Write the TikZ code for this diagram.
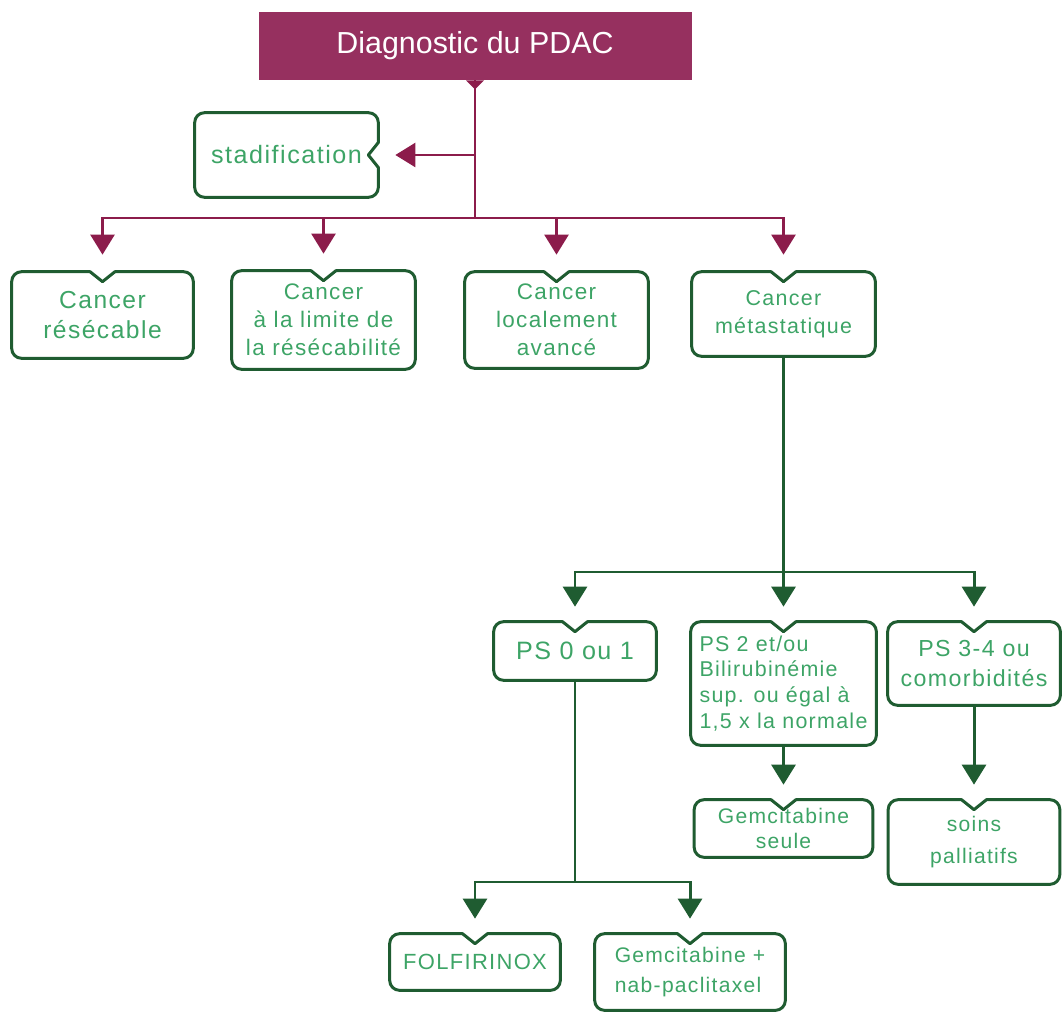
\documentclass[tikz,border=0pt]{standalone}
\usepackage{fontspec}
\setmainfont{Liberation Sans}
\newfontfamily\boxfont[LetterSpace=6]{Liberation Sans}
\usepackage{tikz}
\usetikzlibrary{arrows.meta,calc}
\definecolor{hexcolor0x96305f}{rgb}{0.588,0.188,0.373}
\definecolor{hexcolor0x8c1c4b}{rgb}{0.549,0.110,0.294}
\definecolor{hexcolor0x1f5c31}{rgb}{0.122,0.361,0.192}
\definecolor{hexcolor0x3da466}{rgb}{0.239,0.643,0.400}
\definecolor{mywhite}{rgb}{1.000,1.000,1.000}
\tikzstyle{title}=[rectangle,fill=hexcolor0x96305f,text=mywhite,minimum width=8.66cm,minimum height=1.36cm,font=\fontsize{17.3}{20}\selectfont]
\tikzstyle{box}=[rectangle,align=center,text=hexcolor0x3da466,inner sep=0pt]
\tikzstyle{outline}=[draw=hexcolor0x1f5c31,line width=1.7pt,line join=round,line cap=round]
\tikzstyle{mline}=[draw=hexcolor0x8c1c4b,line width=1.4pt]
\tikzstyle{marrow}=[mline,-{Triangle[width=0.48cm,length=0.4cm]},shorten >=0.34cm]
\tikzstyle{gline}=[draw=hexcolor0x1f5c31,line width=1.7pt]
\tikzstyle{garrow}=[gline,-{Triangle[width=0.48cm,length=0.4cm]},shorten >=0.3cm]
\newcommand{\fsz}[2]{\boxfont\fontsize{#1}{#2}\selectfont}
\newcommand{\notchN}[1]{%
  \draw [style=outline,rounded corners=0.2cm] ($(#1.north)+(-0.25,0)$) -- (#1.north west) -- (#1.south west) -- (#1.south east) -- (#1.north east) -- ($(#1.north)+(0.25,0)$);
  \draw [style=outline] ($(#1.north)+(-0.25,0)$) -- ($(#1.north)+(0,-0.2)$) -- ($(#1.north)+(0.25,0)$);}
\newcommand{\notchE}[1]{%
  \draw [style=outline,rounded corners=0.2cm] ($(#1.east)+(0,0.25)$) -- (#1.north east) -- (#1.north west) -- (#1.south west) -- (#1.south east) -- ($(#1.east)+(0,-0.25)$);
  \draw [style=outline] ($(#1.east)+(0,0.25)$) -- ($(#1.east)+(-0.2,0)$) -- ($(#1.east)+(0,-0.25)$);}

\begin{document}
\begin{tikzpicture}
	\useasboundingbox (0,0) rectangle (21.24,-20.24);
		\node [style=title] (0) at (9.5,-0.92) {Diagnostic du PDAC};
		\node [style=box,minimum width=3.66cm,minimum height=1.68cm,font=\fsz{14.3}{17}] (1) at (5.73,-3.1) {stadification};
		\node [style=box,minimum width=3.62cm,minimum height=1.72cm,font=\fsz{14}{17}] (2) at (2.05,-6.3) {Cancer\\résécable};
		\node [style=box,minimum width=3.66cm,minimum height=1.96cm,font=\fsz{12.8}{15.9}] (3) at (6.47,-6.4) {Cancer\\à la limite de\\la résécabilité};
		\node [style=box,minimum width=3.66cm,minimum height=1.92cm,font=\fsz{12.8}{15.9}] (4) at (11.13,-6.4) {Cancer\\localement\\avancé};
		\node [style=box,minimum width=3.66cm,minimum height=1.68cm,font=\fsz{12.2}{16}] (5) at (15.67,-6.28) {Cancer\\métastatique};
		\node [style=box,minimum width=3.24cm,minimum height=1.16cm,font=\fsz{14.3}{16}] (6) at (11.5,-13.02) {PS 0 ou 1};
		\node [style=box,minimum width=3.7cm,minimum height=2.46cm,font=\fsz{12.2}{14.7},align=left] (7) at (15.67,-13.67) {PS 2 et/ou\\Bilirubinémie\\sup. ou égal à\\1,5 x la normale};
		\node [style=box,minimum width=3.44cm,minimum height=1.66cm,font=\fsz{13.2}{17}] (8) at (19.48,-13.27) {PS 3-4 ou\\comorbidités};
		\node [style=box,minimum width=3.56cm,minimum height=1.14cm,font=\fsz{12}{14.5}] (9) at (15.67,-16.57) {Gemcitabine\\seule};
		\node [style=box,minimum width=3.42cm,minimum height=1.68cm,font=\fsz{12}{18}] (10) at (19.48,-16.84) {soins\\palliatifs};
		\node [style=box,minimum width=3.4cm,minimum height=1.12cm,font=\fsz{12.5}{15}] (11) at (9.5,-19.24) {FOLFIRINOX};
		\node [style=box,minimum width=3.8cm,minimum height=1.52cm,font=\fsz{12}{17},align=left] (12) at (13.8,-19.44) {Gemcitabine +\\nab-paclitaxel};
		\coordinate (c0) at (9.5,-4.36);
		\coordinate (c1) at (15.67,-11.44);
		\coordinate (c2) at (11.5,-17.64);
		\notchE{1}
		\foreach \n in {2,...,12} {\notchN{\n}}
		\fill [hexcolor0x8c1c4b] ($(0.south)+(-0.18,0)$) -- ($(0.south)+(0.18,0)$) -- ($(0.south)+(0,-0.18)$) -- cycle;
		\draw [style=mline] (0.south) -- (c0);
		\draw [style=marrow] (0.south |- 1.east) -- (1.east);
		\draw [style=marrow] (c0) -| (2.north);
		\draw [style=marrow] (c0) -| (3.north);
		\draw [style=marrow] (c0) -| (4.north);
		\draw [style=marrow] (c0) -| (5.north);
		\draw [style=gline] (5.south) -- (c1);
		\draw [style=garrow] (c1) -| (6.north);
		\draw [style=garrow] (c1) -| (7.north);
		\draw [style=garrow] (c1) -| (8.north);
		\draw [style=garrow] (7.south) -- (9.north);
		\draw [style=garrow] (8.south) -- (10.north);
		\draw [style=gline] (6.south) -- (c2);
		\draw [style=garrow] (c2) -| (11.north);
		\draw [style=garrow] (c2) -| (12.north);
\end{tikzpicture}
\end{document}
